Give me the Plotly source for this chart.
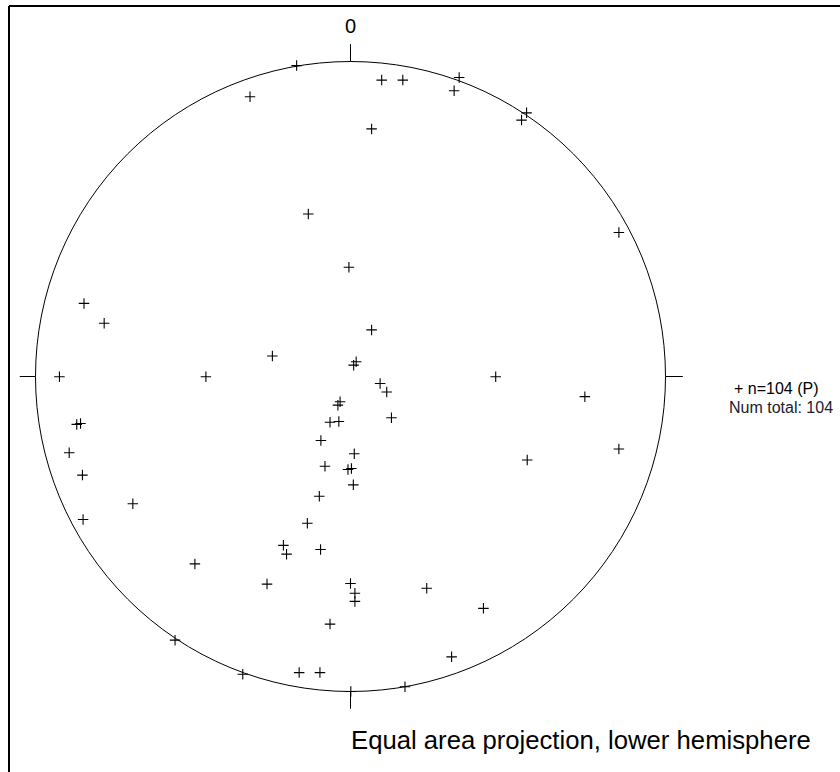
import plotly.graph_objects as go

# Pole positions on the equal-area net (unit circle; east = +x, north = +y)
east = [
    -0.171, -0.319, 0.099, 0.166, 0.067, -0.134, 0.345, 0.329, 0.559, 0.543,
    0.852, -0.005, -0.846, -0.782, 0.067, -0.248, 0.018, 0.010, -0.924, -0.459,
    0.094, 0.115, -0.033, -0.040, 0.130, -0.869, -0.857, -0.065, -0.037, -0.094,
    -0.893, 0.012, -0.081, -0.008, 0.003, -0.851, 0.009, -0.099, -0.691, -0.849,
    -0.137, 0.461, 0.744, 0.852, 0.561, -0.213, -0.203, -0.095, -0.494, -0.265,
    0.000, 0.014, 0.014, -0.065, -0.557, -0.342, -0.163, -0.097, 0.001, 0.173,
    0.242, 0.422, 0.321,
]
north = [
    0.987, 0.888, 0.941, 0.941, 0.786, 0.516, 0.949, 0.907, 0.837, 0.814,
    0.457, 0.347, 0.232, 0.169, 0.148, 0.065, 0.047, 0.036, -0.001, -0.001,
    -0.022, -0.049, -0.080, -0.091, -0.131, -0.152, -0.149, -0.145, -0.143, -0.203,
    -0.242, -0.245, -0.285, -0.295, -0.292, -0.313, -0.344, -0.380, -0.404, -0.454,
    -0.466, -0.001, -0.064, -0.230, -0.265, -0.536, -0.564, -0.549, -0.595, -0.659,
    -0.657, -0.688, -0.714, -0.786, -0.837, -0.945, -0.940, -0.940, -1.000, -0.985,
    -0.672, -0.736, -0.890,
]

legend_lines = ["+ n=104 (P)", "Num total: 104"]
north_label = "0"
caption = "Equal area projection, lower hemisphere"

W, H = 840, 772
R = 315.0           # net radius in pixels
CX, CY = 350.5, 376.5  # net centre in pixels
FONT = "Liberation Sans, Arial, sans-serif"


def px(xp):
    return xp / W


def py(yp):
    return 1 - yp / H


fig = go.Figure()
fig.add_trace(go.Scatter(
    x=east, y=north, mode="markers",
    marker=dict(symbol="cross-thin", size=7.5, line=dict(width=1.1, color="black"), color="black"),
    showlegend=False, hoverinfo="skip",
))

shapes = [
    dict(type="circle", xref="x", yref="y", x0=-1, x1=1, y0=-1, y1=1,
         line=dict(color="black", width=1)),
    # compass ticks
    dict(type="line", xref="x", yref="y", x0=0, x1=0, y0=1.0, y1=1.055, line=dict(color="black", width=1)),
    dict(type="line", xref="x", yref="y", x0=0, x1=0, y0=-1.0, y1=-1.055, line=dict(color="black", width=1)),
    dict(type="line", xref="x", yref="y", x0=1.0, x1=1.055, y0=0, y1=0, line=dict(color="black", width=1)),
    dict(type="line", xref="x", yref="y", x0=-1.0, x1=-1.05, y0=0, y1=0, line=dict(color="black", width=1)),
    # window frame (top and left edges)
    dict(type="line", xref="paper", yref="paper", x0=px(9), x1=1.0, y0=py(6), y1=py(6),
         line=dict(color="black", width=2)),
    dict(type="line", xref="paper", yref="paper", x0=px(9), x1=px(9), y0=py(6), y1=0.0,
         line=dict(color="black", width=2)),
]

annotations = [
    dict(text=north_label, xref="paper", yref="paper", x=px(350.5), y=py(25.5),
         xanchor="center", yanchor="middle", showarrow=False,
         font=dict(family=FONT, size=20, color="black")),
    dict(text=legend_lines[0], xref="paper", yref="paper", x=px(732), y=py(388),
         xanchor="left", yanchor="middle", showarrow=False,
         font=dict(family=FONT, size=16, color="black")),
    dict(text=legend_lines[1], xref="paper", yref="paper", x=px(727), y=py(407),
         xanchor="left", yanchor="middle", showarrow=False,
         font=dict(family=FONT, size=16, color="#202030")),
    dict(text=caption, xref="paper", yref="paper", x=px(349), y=py(740),
         xanchor="left", yanchor="middle", showarrow=False,
         font=dict(family=FONT, size=25.7, color="black")),
]

fig.update_layout(
    width=W, height=H,
    margin=dict(l=0, r=0, t=0, b=0, pad=0),
    paper_bgcolor="white", plot_bgcolor="white",
    shapes=shapes, annotations=annotations,
    xaxis=dict(range=[-CX / R, (W - CX) / R], visible=False, fixedrange=True),
    yaxis=dict(range=[(CY - H) / R, CY / R], visible=False, fixedrange=True),
)

fig.write_html("out.html")
